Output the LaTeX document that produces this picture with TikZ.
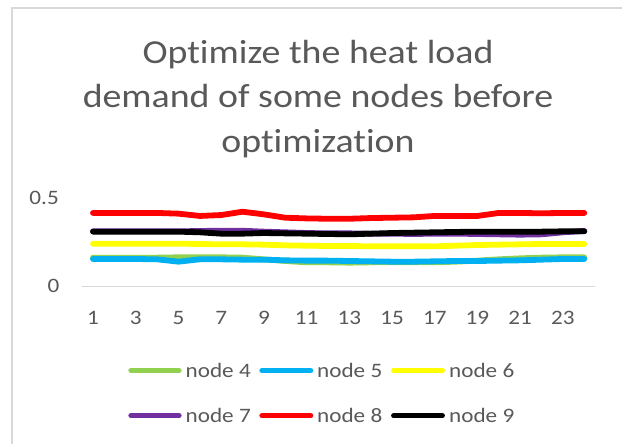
\documentclass[tikz,border=0pt]{standalone}
\usepackage{fontspec}
\setmainfont{Carlito}[FakeStretch=1.13, Ligatures=NoCommon]
\definecolor{txtgray}{HTML}{595959}
\definecolor{framegray}{HTML}{D9D9D9}
\definecolor{cfour}{HTML}{92D050}
\definecolor{cfive}{HTML}{00B0F0}
\definecolor{csix}{HTML}{FFFF00}
\definecolor{cseven}{HTML}{7030A0}
\definecolor{ceight}{HTML}{FF0000}
\definecolor{cnine}{HTML}{000000}
\tikzset{
  series/.style={line width=5.8pt, line cap=round, line join=round},
  legline/.style={line width=5.3pt, line cap=round},
  small/.style={font=\fontsize{20.5}{24}\selectfont, text=txtgray, inner sep=0pt},
  ttl/.style={font=\fontsize{33.5}{44}\selectfont, text=txtgray, inner sep=0pt, anchor=base},
  legtxt/.style={small, anchor=base west},
}
\begin{document}
\begin{tikzpicture}[x=1pt,y=1pt]
\useasboundingbox (0,0) rectangle (622,444);
\fill[white] (0,0) rectangle (622,444);
% chart frame (left and top edges visible)
\draw[framegray, line width=1.4pt] (12,-2) -- (12,436) -- (624,436);
% title
\node[ttl] (title1) at (318,380.7) {Optimize the heat load};
\node[ttl] (title2) at (318,336) {demand of some nodes before};
\node[ttl] (title3) at (318,291) {optimization};
% y labels
\node[small, anchor=base east] (y05) at (59,239) {0.5};
\node[small, anchor=base east] (y0) at (59.5,151) {0};
\begin{scope}[shift={(71.64,157.3)}, x=21.36pt, y=176pt]
  \draw[framegray, line width=1.4pt] (0.5,0) coordinate (axl) -- (24.5,0) coordinate (axr);
  \foreach \i in {1,3,...,23} {
    \node[small, anchor=base] (xl\i) at (\i,-0.212) {\i};
  }
  \draw[series, cfour] plot coordinates {(1,0.165)(2,0.165)(3,0.165)(4,0.165)(5,0.1669)(6,0.1669)(7,0.1669)(8,0.165)(9,0.1555)(10,0.146)(11,0.1385)(12,0.1385)(13,0.1366)(14,0.1385)(15,0.1385)(16,0.1385)(17,0.1385)(18,0.1422)(19,0.148)(20,0.1555)(21,0.1612)(22,0.165)(23,0.1669)(24,0.1669)};
  \draw[series, cfive] plot coordinates {(1,0.1574)(2,0.1574)(3,0.1574)(4,0.1555)(5,0.1422)(6,0.1555)(7,0.1555)(8,0.1536)(9,0.1536)(10,0.1498)(11,0.148)(12,0.148)(13,0.146)(14,0.1441)(15,0.1422)(16,0.1422)(17,0.1441)(18,0.146)(19,0.146)(20,0.148)(21,0.1498)(22,0.1536)(23,0.1574)(24,0.1574)};
  \draw[series, csix] plot coordinates {(1,0.2445)(2,0.2445)(3,0.2445)(4,0.2445)(5,0.2445)(6,0.2426)(7,0.2407)(8,0.2407)(9,0.2388)(10,0.235)(11,0.2331)(12,0.2312)(13,0.2312)(14,0.2294)(15,0.2294)(16,0.2294)(17,0.2294)(18,0.2331)(19,0.2369)(20,0.2388)(21,0.2407)(22,0.2426)(23,0.2426)(24,0.2426)};
  \draw[series, cseven] plot coordinates {(1,0.3146)(2,0.3146)(3,0.3146)(4,0.3146)(5,0.3146)(6,0.3165)(7,0.318)(8,0.318)(9,0.3127)(10,0.309)(11,0.305)(12,0.303)(13,0.303)(14,0.3013)(15,0.3013)(16,0.2994)(17,0.3013)(18,0.3013)(19,0.2994)(20,0.2975)(21,0.2956)(22,0.2975)(23,0.309)(24,0.3165)};
  \draw[series, ceight] plot coordinates {(1,0.419)(2,0.419)(3,0.419)(4,0.419)(5,0.415)(6,0.402)(7,0.407)(8,0.426)(9,0.411)(10,0.392)(11,0.388)(12,0.386)(13,0.386)(14,0.390)(15,0.392)(16,0.394)(17,0.402)(18,0.402)(19,0.402)(20,0.419)(21,0.419)(22,0.417)(23,0.419)(24,0.419)};
  \draw[series, cnine] plot coordinates {(1,0.3127)(2,0.3127)(3,0.3127)(4,0.3127)(5,0.3127)(6,0.309)(7,0.3013)(8,0.3013)(9,0.305)(10,0.303)(11,0.3013)(12,0.2994)(13,0.2975)(14,0.3013)(15,0.305)(16,0.307)(17,0.309)(18,0.311)(19,0.3127)(20,0.3127)(21,0.3127)(22,0.3127)(23,0.3146)(24,0.3146)};
\end{scope}
% legend
\coordinate (l4a) at (131,73.3); \coordinate (l4b) at (179,73.3);
\coordinate (l5a) at (262,73.3); \coordinate (l5b) at (310.6,73.3);
\coordinate (l6a) at (393.7,73.3); \coordinate (l6b) at (442.3,73.3);
\coordinate (l7a) at (131,28.3); \coordinate (l7b) at (179,28.3);
\coordinate (l8a) at (262,28.3); \coordinate (l8b) at (310.6,28.3);
\coordinate (l9a) at (393.7,28.3); \coordinate (l9b) at (442.3,28.3);
\draw[legline, cfour] (l4a) -- (l4b);
\draw[legline, cfive] (l5a) -- (l5b);
\draw[legline, csix] (l6a) -- (l6b);
\draw[legline, cseven] (l7a) -- (l7b);
\draw[legline, ceight] (l8a) -- (l8b);
\draw[legline, cnine] (l9a) -- (l9b);
\node[legtxt] (t4) at (185.5,66.3) {node 4};
\node[legtxt] (t5) at (317,66.3) {node 5};
\node[legtxt] (t6) at (449,66.3) {node 6};
\node[legtxt] (t7) at (185.5,21.3) {node 7};
\node[legtxt] (t8) at (317,21.3) {node 8};
\node[legtxt] (t9) at (449,21.3) {node 9};
\end{tikzpicture}
\end{document}
